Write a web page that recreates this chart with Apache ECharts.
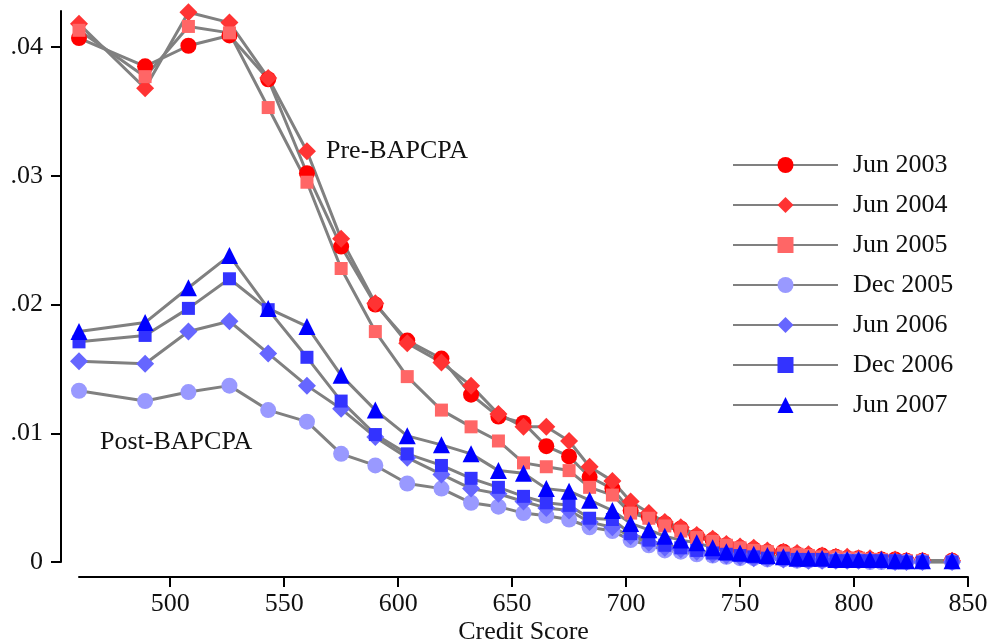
<!DOCTYPE html>
<html>
<head>
<meta charset="utf-8">
<script src="https://cdn.jsdelivr.net/npm/echarts@6/dist/echarts.min.js"></script>
<style>
  html, body { margin: 0; padding: 0; background: #fff; }
  #chart { width: 989px; height: 643px; }
</style>
</head>
<body>
<div id="chart"></div>
<script>
// Credit score bins (x positions of each observation)
const creditScores = [460, 489, 508, 526, 543, 560, 575, 590, 604, 619, 632, 644, 655, 665, 675, 684, 694, 702, 710, 717,
                      724, 731, 738, 744, 750, 756, 762, 769, 775, 780, 786, 792, 797, 802, 807, 812, 818, 823, 830, 843];

const seriesNames = ['Jun 2003', 'Jun 2004', 'Jun 2005', 'Dec 2005', 'Jun 2006', 'Dec 2006', 'Jun 2007'];

const jun2003 = [0.0407, 0.0385, 0.0401, 0.0409, 0.0375, 0.0302, 0.0245, 0.0200, 0.0172, 0.0158, 0.0130, 0.0113, 0.0108, 0.0090, 0.0082, 0.0066, 0.0057, 0.0040, 0.0035, 0.0030,
                 0.0026, 0.0020, 0.0017, 0.0013, 0.0011, 0.0010, 0.0008, 0.0008, 0.0006, 0.0005, 0.0005, 0.0004, 0.0003, 0.0003, 0.0002, 0.0002, 0.0002, 0.0001, 0.0001, 0.0001];
const jun2004 = [0.0418, 0.0368, 0.0427, 0.0419, 0.0376, 0.0319, 0.0251, 0.0201, 0.0170, 0.0155, 0.0137, 0.0115, 0.0105, 0.0105, 0.0094, 0.0074, 0.0063, 0.0047, 0.0038, 0.0031,
                 0.0027, 0.0021, 0.0018, 0.0014, 0.0012, 0.0011, 0.0009, 0.0008, 0.0007, 0.0006, 0.0005, 0.0004, 0.0004, 0.0003, 0.0003, 0.0002, 0.0002, 0.0001, 0.0001, 0.0001];
const jun2005 = [0.0413, 0.0377, 0.0416, 0.0411, 0.0353, 0.0295, 0.0228, 0.0179, 0.0144, 0.0118, 0.0105, 0.0094, 0.0077, 0.0074, 0.0071, 0.0058, 0.0052, 0.0038, 0.0034, 0.0028,
                 0.0024, 0.0019, 0.0016, 0.0013, 0.0011, 0.0009, 0.0008, 0.0007, 0.0006, 0.0005, 0.0004, 0.0004, 0.0003, 0.0003, 0.0002, 0.0002, 0.0001, 0.0001, 0.0001, 0.0000];
const dec2005 = [0.0133, 0.0125, 0.0132, 0.0137, 0.0118, 0.0109, 0.0084, 0.0075, 0.0061, 0.0057, 0.0046, 0.0043, 0.0038, 0.0036, 0.0033, 0.0027, 0.0024, 0.0017, 0.0013, 0.0009,
                 0.0008, 0.0006, 0.0005, 0.0004, 0.0003, 0.0003, 0.0002, 0.0002, 0.0001, 0.0001, 0.0001, 0.0001, 0.0001, 0.0001, 0.0000, 0.0000, 0.0000, 0.0000, 0.0000, 0.0000];
const jun2006 = [0.0156, 0.0154, 0.0179, 0.0187, 0.0162, 0.0137, 0.0119, 0.0097, 0.0081, 0.0068, 0.0057, 0.0053, 0.0047, 0.0042, 0.0040, 0.0031, 0.0027, 0.0020, 0.0015, 0.0011,
                 0.0010, 0.0008, 0.0006, 0.0005, 0.0004, 0.0003, 0.0003, 0.0002, 0.0002, 0.0001, 0.0001, 0.0001, 0.0001, 0.0001, 0.0001, 0.0001, 0.0000, 0.0000, 0.0000, 0.0000];
const dec2006 = [0.0171, 0.0176, 0.0197, 0.0220, 0.0196, 0.0159, 0.0125, 0.0099, 0.0084, 0.0075, 0.0065, 0.0058, 0.0051, 0.0046, 0.0044, 0.0034, 0.0033, 0.0022, 0.0017, 0.0013,
                 0.0011, 0.0009, 0.0007, 0.0006, 0.0005, 0.0004, 0.0003, 0.0003, 0.0002, 0.0002, 0.0002, 0.0001, 0.0001, 0.0001, 0.0001, 0.0001, 0.0001, 0.0000, 0.0000, 0.0000];
const jun2007 = [0.0179, 0.0186, 0.0213, 0.0238, 0.0197, 0.0183, 0.0145, 0.0118, 0.0098, 0.0091, 0.0084, 0.0071, 0.0069, 0.0057, 0.0055, 0.0048, 0.0040, 0.0030, 0.0025, 0.0020,
                 0.0017, 0.0015, 0.0011, 0.0008, 0.0007, 0.0006, 0.0005, 0.0004, 0.0003, 0.0003, 0.0003, 0.0002, 0.0002, 0.0002, 0.0002, 0.0002, 0.0001, 0.0001, 0.0001, 0.0001];

const xTickValues = [500, 550, 600, 650, 700, 750, 800, 850];
const yTickValues = [0, 0.01, 0.02, 0.03, 0.04];

const seriesValues = [jun2003, jun2004, jun2005, dec2005, jun2006, dec2006, jun2007];
const markerColors = ['#ff0000', '#ff3333', '#ff6666', '#9999ff', '#6666ff', '#3333ff', '#0000ff'];
const markerShapes = ['circle', 'diamond', 'rect', 'circle', 'diamond', 'rect', 'triangle'];
const markerSizes = [16, 18, 13, 16, 18, 13, 17];

const FONT = '"Liberation Serif", "DejaVu Serif", serif';
const FONT_SIZE = 26;
const chart = echarts.init(document.getElementById('chart'), null, { renderer: 'canvas' });

const series = seriesNames.map((name, i) => ({
  name: name,
  type: 'line',
  data: creditScores.map((x, j) => [x, seriesValues[i][j]]),
  symbol: markerShapes[i],
  symbolSize: markerSizes[i],
  showAllSymbol: true,
  itemStyle: { color: markerColors[i], opacity: 1 },
  lineStyle: { color: '#808080', width: 3 },
  emphasis: { disabled: true },
  animation: false
}));

chart.setOption({
  backgroundColor: '#ffffff',
  animation: false,
  textStyle: { fontFamily: FONT },
  grid: { left: 79, right: 21, top: 11, bottom: 81, containLabel: false, outerBoundsMode: 'none' },
  xAxis: {
    type: 'value',
    min: 460,
    max: 850,
    offset: 15,
    name: 'Credit Score',
    nameLocation: 'middle',
    nameGap: 42,
    nameMoveOverlap: false,
    nameTextStyle: { fontFamily: FONT, fontSize: FONT_SIZE, color: '#111' },
    axisLine: { show: true, onZero: false, lineStyle: { color: '#000', width: 2 } },
    axisTick: { show: true, length: 10, lineStyle: { color: '#000', width: 2 }, customValues: xTickValues },
    axisLabel: { fontFamily: FONT, fontSize: FONT_SIZE, color: '#111', margin: 14, customValues: xTickValues },
    splitLine: { show: false }
  },
  yAxis: {
    type: 'value',
    min: 0,
    max: 0.0428,
    offset: 18,
    axisLine: { show: true, onZero: false, lineStyle: { color: '#000', width: 2 } },
    axisTick: { show: true, length: 10, lineStyle: { color: '#000', width: 2 }, customValues: yTickValues },
    axisLabel: {
      fontFamily: FONT, fontSize: FONT_SIZE, color: '#111', margin: 18,
      customValues: yTickValues,
      formatter: v => (v === 0 ? '0' : v.toFixed(2).replace(/^0/, ''))
    },
    splitLine: { show: false }
  },
  legend: {
    orient: 'vertical',
    left: 727,
    top: 147,
    itemWidth: 105,
    itemHeight: 20,
    itemGap: 14,
    selectedMode: false,
    textStyle: { fontFamily: FONT, fontSize: FONT_SIZE, color: '#111', padding: [0, 0, 0, 10] },
    data: seriesNames
  },
  graphic: [
    { type: 'text', left: 326, top: 138, style: { text: 'Pre-BAPCPA', font: FONT_SIZE + 'px ' + FONT, fill: '#111' } },
    { type: 'text', left: 100, top: 429, style: { text: 'Post-BAPCPA', font: FONT_SIZE + 'px ' + FONT, fill: '#111' } }
  ],
  series: series
});
</script>
</body>
</html>
